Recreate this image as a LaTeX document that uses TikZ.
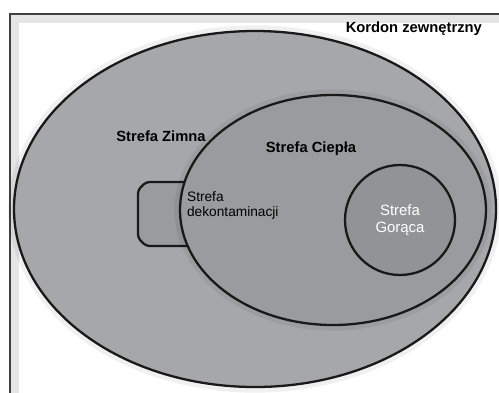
\documentclass[tikz,border=0pt]{standalone}
\usepackage{fontspec}
\setmainfont{Liberation Sans}
\usepackage{tikz}
\usetikzlibrary{positioning}

\definecolor{zimna}{HTML}{A6A7AA}
\definecolor{ciepla}{HTML}{9A9B9E}
\definecolor{goraca}{HTML}{929396}

\begin{document}
\begin{tikzpicture}[
      x=0.02cm, y=-0.02cm,
      strefa/.style={draw=black!90, line width=1.3pt},
      cien/.style={draw=black, opacity=0.06, line width=3pt},
      lbl/.style={font=\fontsize{8.4}{10}\selectfont\bfseries, inner sep=1pt},
      lblthin/.style={font=\fontsize{7.8}{8.8}\selectfont, inner sep=1pt, align=left}
    ]
    \useasboundingbox (0,0) rectangle (499,392);

    % Ramka
    \draw[white!90!black, line width=4pt] (15,19) rectangle (510,400);
    \draw[black!75, line width=0.6pt] (10,14) rectangle (510,400);

    % Strefa Zimna
    \draw[cien] (255,209) ellipse (244 and 181);
    \draw[strefa, fill=zimna] (255,209) ellipse (241 and 178);

    % Strefa dekontaminacji
    \draw[strefa, fill=ciepla, rounded corners=2pt]
      (200,182) -- (146,182) -- (138,190) -- (138,238) -- (146,246) -- (200,246);

    % Strefa Ciepla
    \draw[cien] (333,210) ellipse (156 and 118);
    \draw[strefa, fill=ciepla] (333,210) ellipse (153 and 115);

    % Strefa Goraca
    \draw[strefa, fill=goraca] (400,220) circle (55);

    % Napisy
    \node[lbl, anchor=east] (kordon) at (484,29) {Kordon zewnętrzny};
    \node[lbl] (zimna) at (161,136) {Strefa Zimna};
    \node[lbl] (ciepla) at (311,149) {Strefa Ciepła};
    \node[lblthin, anchor=north west] (dekon) at (185,189) {Strefa\\dekontaminacji};
    \node[lblthin, align=center, text=white, font=\fontsize{8.5}{10}\selectfont] (goraca) at (400,220) {Strefa\\Gorąca};
  \end{tikzpicture}
\end{document}
